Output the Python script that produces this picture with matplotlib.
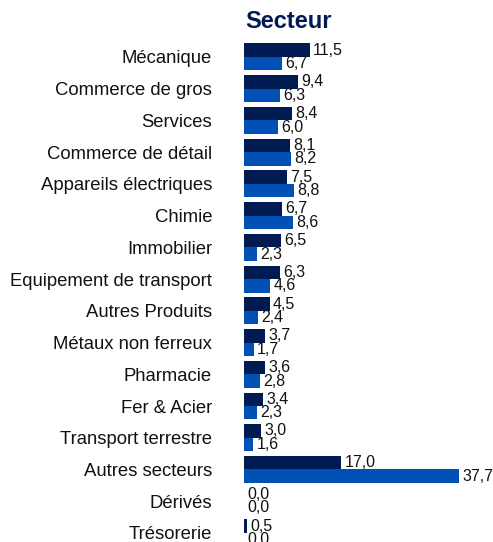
import numpy as np
import matplotlib.pyplot as plt

plt.rcParams['font.family'] = ['Liberation Sans', 'DejaVu Sans']

# Data
secteurs = ['Mécanique', 'Commerce de gros', 'Services', 'Commerce de détail',
            'Appareils électriques', 'Chimie', 'Immobilier',
            'Equipement de transport', 'Autres Produits', 'Métaux non ferreux',
            'Pharmacie', 'Fer & Acier', 'Transport terrestre',
            'Autres secteurs', 'Dérivés', 'Trésorerie']
serie1 = [11.5, 9.4, 8.4, 8.1, 7.5, 6.7, 6.5, 6.3, 4.5, 3.7, 3.6, 3.4, 3.0, 17.0, 0.0, 0.5]
serie2 = [6.7, 6.3, 6.0, 8.2, 8.8, 8.6, 2.3, 4.6, 2.4, 1.7, 2.8, 2.3, 1.6, 37.7, 0.0, 0.0]

navy = '#001a52'
blue = '#0050b6'

fig = plt.figure(figsize=(4.93, 5.42), dpi=100)
# axes runs a bit past the bottom edge, like the original (last row is cut)
ax = fig.add_axes([244/493, -6.8/542, 249/493, 507.7/542])

y = np.arange(len(secteurs))
h = 0.425
b1 = ax.barh(y - h/2, serie1, height=h, color=navy)
b2 = ax.barh(y + h/2, serie2, height=h, color=blue)

for bars, vals in [(b1, serie1), (b2, serie2)]:
    for bar, v in zip(bars, vals):
        ax.annotate(f'{v:.1f}'.replace('.', ','),
                    xy=(bar.get_width(), bar.get_y() + bar.get_height()/2),
                    xytext=(2.5, 0), textcoords='offset points',
                    va='center', ha='left', fontsize=11.5, color='#111111')

ax.set_xlim(0, 249/5.7)
ax.set_ylim(len(secteurs) - 0.5, -0.5)
ax.set_yticks(y)
ax.set_yticklabels(secteurs, fontsize=13.3, color='#111111')
ax.tick_params(axis='y', length=0, pad=23)
ax.set_xticks([])
for s in ax.spines.values():
    s.set_visible(False)

fig.text(245/493, 1 - 22/542, 'Secteur', fontsize=17, fontweight='bold',
         color=navy, ha='left', va='center')

plt.savefig('out.png', dpi=100)
